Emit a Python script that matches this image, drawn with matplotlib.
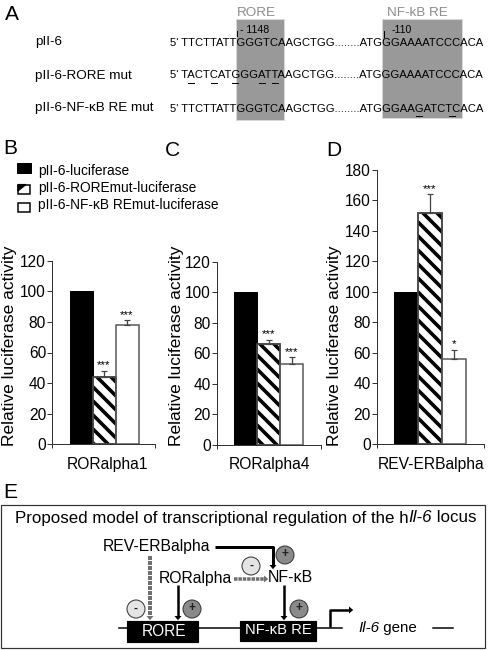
import matplotlib
matplotlib.use("Agg")
import matplotlib.pyplot as plt
from matplotlib.patches import Rectangle, Circle

plt.rcParams['font.family'] = ['Liberation Sans', 'DejaVu Sans']

DPI = 84
W, H = 492, 650
plt.rcParams['hatch.linewidth'] = 3.6 * 72 / DPI

# bar values
groups = ["pII-6-luciferase", "pII-6-ROREmut-luciferase", "pII-6-NF-\u03baB REmut-luciferase"]
b_values = [100, 44, 78]
b_errors = [0, 4, 3]
b_stars = ["", "***", "***"]
c_values = [100, 66, 53]
c_errors = [0, 3, 4.5]
c_stars = ["", "***", "***"]
d_values = [100, 152, 56]
d_errors = [0, 12, 6]
d_stars = ["", "***", "*"]

b_ticks = [0, 20, 40, 60, 80, 100, 120]
d_ticks = [0, 20, 40, 60, 80, 100, 120, 140, 160, 180]

seq_labels = ["pII-6", "pII-6-RORE mut", "pII-6-NF-\u03baB RE mut"]
seq_left = ["5' TTCTTATTGGGTCAAGCTGG........ATGGGAAAATCCCACA",
            "5' TACTCATGGGATTAAGCTGG........ATGGGAAAATCCCACA",
            "5' TTCTTATTGGGTCAAGCTGG........ATGGGAAGATCTCACA"]


def pt(px):
    return px * 72 / DPI


fig = plt.figure(figsize=(W / DPI, H / DPI), dpi=DPI, facecolor='white')
ov = fig.add_axes([0, 0, 1, 1], zorder=0)
ov.set_xlim(0, W)
ov.set_ylim(H, 0)
ov.axis('off')
top = fig.add_axes([0, 0, 1, 1], zorder=5)
top.set_xlim(0, W)
top.set_ylim(H, 0)
top.axis('off')
top.patch.set_alpha(0)


def label(x, y, s, size, **kw):
    kw.setdefault('va', 'center')
    return top.text(x, y, s, fontsize=pt(size), **kw)


def runs(x, y, parts, size, color='black'):
    # pieces of text with different styles, one after the other
    r = fig.canvas.get_renderer()
    for s, style in parts:
        t = top.text(x, y, s, fontsize=pt(size), style=style, color=color, va='center')
        bb = t.get_window_extent(r)
        x += bb.width
        if s.endswith(' '):
            x += size * 0.28


def bars(x0, x1, y0, y1, vmax, ticks, values, errors, stars, bw, bar0, name, lab_x, lab_y, xlab_x):
    left, right = x0, x1
    ax = fig.add_axes([left / W, 1 - y0 / H, (right - left) / W, (y0 - y1) / H], zorder=3)
    ax.patch.set_alpha(0)
    ax.set_xlim((x0 - bar0) / bw, (x1 - bar0) / bw)
    ax.set_ylim(0, vmax)
    ax.bar(0, values[0], width=1, color='black', edgecolor='black', linewidth=pt(1))
    ax.bar(1, values[1], width=1, color='white', edgecolor='black', hatch='\\\\', linewidth=pt(1.5))
    ax.bar(2, values[2], width=1, color='white', edgecolor='#555555', linewidth=pt(1.5))
    ax.bar(1, values[1], width=1, fill=False, edgecolor='#555555', linewidth=pt(1.5))
    for i in [1, 2]:
        ax.errorbar(i, values[i], yerr=[[0], [errors[i]]], color='#444444', capsize=pt(3),
                    elinewidth=pt(1.3), capthick=pt(1.2))
        ax.annotate(stars[i], (i, values[i] + errors[i]), xytext=(0, pt(2.5)), textcoords='offset points',
                    ha='center', va='baseline', fontsize=pt(11.5))
    for s in ['top', 'right']:
        ax.spines[s].set_visible(False)
    ax.spines['left'].set_linewidth(pt(1))
    ax.spines['bottom'].set_linewidth(pt(1))
    ax.spines['left'].set_color('#333333')
    ax.spines['bottom'].set_color('#333333')
    ax.set_yticks(ticks)
    ax.set_xticks(ax.get_xlim())
    ax.set_xticklabels([])
    ax.tick_params(axis='y', length=pt(5), width=pt(1), labelsize=pt(15.5), pad=pt(1), color='#333333')
    ax.tick_params(axis='x', length=pt(4), width=pt(1), color='#333333')
    ax.set_ylabel("Relative luciferase activity", fontsize=pt(17.4), va='center')
    ax.yaxis.set_label_coords(lab_x, lab_y, transform=ov.transData)
    ax.set_xlabel(name, fontsize=pt(15.6), va='center')
    ax.xaxis.set_label_coords(xlab_x, 465, transform=ov.transData)
    return ax


bars(52, 155, 444.3, 260.7, 120, b_ticks, b_values, b_errors, b_stars, 23, 81, "RORalpha1", 10, 346, 107)
bars(217, 321, 445, 261.7, 120, b_ticks, c_values, c_errors, c_stars, 23, 245.5, "RORalpha4", 177, 346, 269)
bars(377, 484, 444.3, 170, 180, d_ticks, d_values, d_errors, d_stars, 24, 406, "REV-ERBalpha", 335, 346, 431)

# panel letters
for s, x, y in [("A", 5, 15), ("B", 3, 149), ("C", 165, 150), ("D", 326, 150), ("E", 3, 492)]:
    label(x, y, s, 21)

# panel A
ov.add_patch(Rectangle((236, 18.7), 47.5, 101.5, fc='#999999', ec='#d8d8d8', lw=pt(1)))
ov.add_patch(Rectangle((382, 18.7), 80, 99.5, fc='#999999', ec='#d8d8d8', lw=pt(1)))
label(256, 12.5, "RORE", 13.5, color='#8c8c8c', ha='center')
label(417, 12.5, "NF-kB RE", 13.5, color='#8c8c8c', ha='center')
label(240, 30, "- 1148", 10.5)
label(392, 30, "-110", 10.5)
top.plot([236.5, 236.5], [31, 36], color='black', lw=pt(1))
top.plot([384, 384], [31, 37], color='black', lw=pt(1))
for s, seq, y in zip(seq_labels, seq_left, [42.5, 75.5, 108.5]):
    label(35, y, s, 13.5)
    label(170, y, seq, 11.2)
for x0, x1, y in [(188, 194, 83), (211, 217, 83), (232, 238, 83), (259, 265, 83), (272, 278, 83),
                  (416, 422, 115.6), (449, 455, 115.6)]:
    top.plot([x0, x1], [y, y], color='black', lw=pt(1))

# legend
top.add_patch(Rectangle((17, 163), 14, 10, fc='black', ec='black', lw=pt(1)))
top.add_patch(Rectangle((18, 184.5), 12, 9, fc='white', ec='black', lw=pt(1.5)))
top.fill([18, 26, 18], [184.5, 184.5, 191], color='black')
top.add_patch(Rectangle((18, 202.5), 12, 9, fc='white', ec='black', lw=pt(1.5)))
for s, y in zip(groups, [171.5, 188.3, 205]):
    label(38, y, s, 13.8)

# panel E
ov.add_patch(Rectangle((1, 504.5), 484, 143.5, fc='white', ec='#333333', lw=pt(1.2)))
fig.canvas.draw()
runs(15, 518, [("Proposed model of transcriptional regulation of the h", 'normal'), ("Il-6", 'italic'),
               (" locus", 'normal')], 16.9)
label(157, 547, "REV-ERBalpha", 15.8, ha='center')
label(195, 578, "RORalpha", 15.7, ha='center')
label(290, 578, "NF-\u03baB", 16, ha='center')

ov.plot([119, 342], [628, 628], color='black', lw=pt(1.5))
ov.plot([433, 453], [628, 628], color='black', lw=pt(1.5))
top.add_patch(Rectangle((127, 621), 71, 21, fc='black', ec='black'))
top.add_patch(Rectangle((240, 621), 76, 20, fc='black', ec='black'))
label(164, 631, "RORE", 15.5, color='white', ha='center')
label(278, 630.5, "NF-\u03baB RE", 14.7, color='white', ha='center')
runs(358, 628, [("Il-6", 'italic'), (" gene", 'normal')], 15.2)


def arrow(pts, color, lw, dash=False, head=7):
    xs = [p[0] for p in pts]
    ys = [p[1] for p in pts]
    ls = (0, (1, 0.25)) if dash else '-'
    top.plot(xs, ys, color=color, lw=pt(lw), ls=ls, solid_capstyle='butt', dash_capstyle='butt')
    dx, dy = xs[-1] - xs[-2], ys[-1] - ys[-2]
    n = (dx ** 2 + dy ** 2) ** 0.5
    dx, dy = dx / n, dy / n
    tx, ty = xs[-1] + dx * head * 0.6, ys[-1] + dy * head * 0.6
    top.fill([tx, xs[-1] - dy * head * 0.5, xs[-1] + dy * head * 0.5],
             [ty, ys[-1] + dx * head * 0.5, ys[-1] - dx * head * 0.5], color=color, lw=0)


arrow([(215, 547), (273, 547), (273, 565)], 'black', 3)
arrow([(178, 585), (178, 616)], 'black', 2.5)
arrow([(284, 585), (284, 616)], 'black', 2.5)
arrow([(150, 556), (150, 616)], '#707070', 4, dash=True)
arrow([(234, 579), (264, 579)], '#707070', 3.5, dash=True)
arrow([(330, 627), (330, 610), (349, 610)], 'black', 2.5)

for x, y, s, fc in [(136, 609, "-", '#e4e4e4'), (192, 609, "+", '#8a8a8a'), (299, 609, "+", '#8a8a8a'),
                    (251, 566, "-", '#e4e4e4'), (285, 555, "+", '#8a8a8a')]:
    top.add_patch(Circle((x, y), 9, fc=fc, ec='#333333', lw=pt(1)))
    top.text(x, y - 0.5, s, fontsize=pt(12), ha='center', va='center', fontweight='bold', color='#222222')

fig.savefig("out.png", dpi=DPI)
